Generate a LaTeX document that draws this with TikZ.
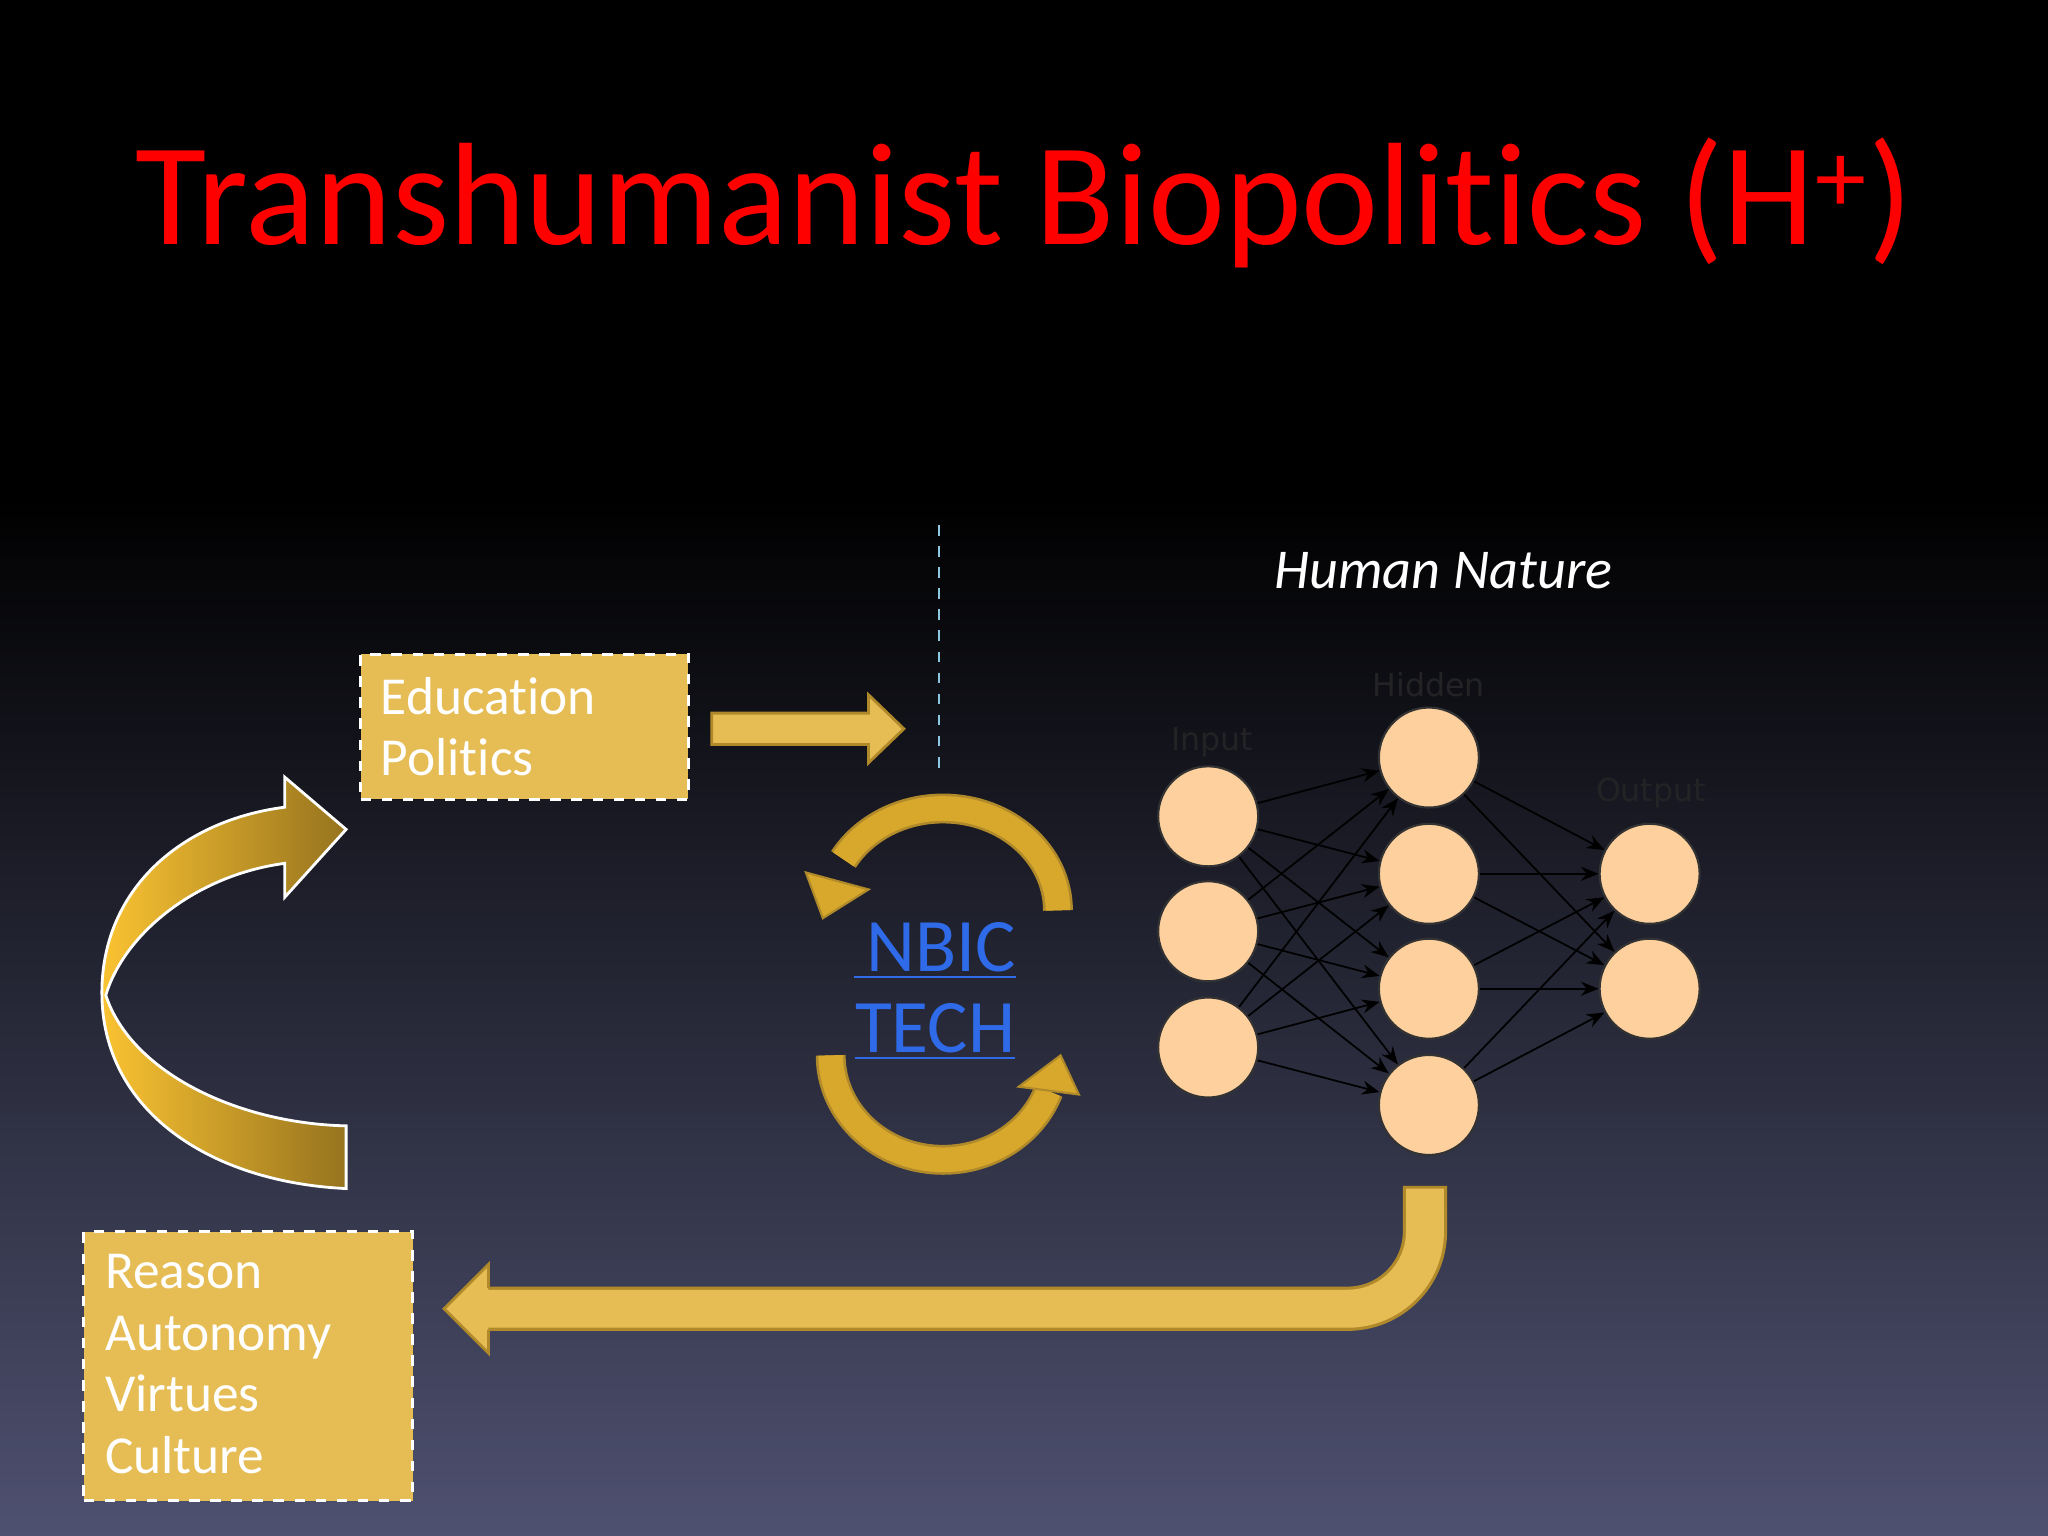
\documentclass[tikz,border=0pt]{standalone}
\usepackage{fontspec}
\setmainfont{Carlito}[Ligatures=NoCommon]
\newfontfamily\netfont{DejaVu Sans}
\usetikzlibrary{arrows.meta}
\definecolor{gold}{HTML}{E6BC55}
\definecolor{golddk}{HTML}{B08A2A}
\definecolor{ribbon}{HTML}{D8A82C}
\definecolor{neuron}{HTML}{FDD09E}
\definecolor{nbic}{HTML}{2F6BE8}
\definecolor{bgbot}{HTML}{4E5170}
\begin{document}
\begin{tikzpicture}[x=0.013061cm,y=-0.013061cm,
  box/.style={draw=white,dashed,line width=0.8pt,fill=gold,anchor=north west,inner sep=0pt},
  boxtext/.style={text=white,align=left,anchor=north west,inner sep=0pt,font=\fontsize{15.2}{17.5}\selectfont},
  nn/.style={circle,draw=black!80,line width=0.6pt,fill=neuron,minimum size=1.0cm,inner sep=0pt},
  nlab/.style={font=\netfont\fontsize{9}{10}\selectfont,text={rgb,255:red,35;green,35;blue,38}},
  edge/.style={-{Stealth[length=5pt,width=4pt]},line width=0.5pt,black},
  nbictext/.style={text=nbic,font=\fontsize{21.5}{24}\selectfont}]
\useasboundingbox (0,0) rectangle (1568,1176);
\fill[black] (0,0) rectangle (1568,381);
\shade[top color=black,bottom color=bgbot] (0,380) rectangle (1568,1176);
% title
\node[text=red,font=\fontsize{41.5}{45}\selectfont] (title) at (784,155) {Transhumanist Biopolitics (H\textsuperscript{+})};
% boxes
\node[box,minimum width=3.278cm,minimum height=1.45cm] (edu) at (275,500) {};
\node[boxtext] (edut) at (291,518) {Education\\Politics};
\node[box,minimum width=3.291cm,minimum height=2.69cm] (rea) at (63,942) {};
\node[boxtext] (reat) at (80,960) {Reason\\Autonomy\\Virtues\\Culture};
% right arrow
\filldraw[fill=gold,draw=golddk,line width=0.8pt] (545,546) -- (665,546) -- (665,532) -- (692,558) -- (665,584) -- (665,570) -- (545,570) -- cycle;
% dashed line
\coordinate (d1) at (719,402); \coordinate (d2) at (719,590);
\draw[color={rgb,255:red,140;green,200;blue,225},dashed,line width=0.6pt] (d1) -- (d2);
% big curved arrow
\shade[left color={rgb,255:red,250;green,195;blue,50},right color={rgb,255:red,150;green,115;blue,30},draw=white,line width=0.8pt]
 (265,910) .. controls (160,905) and (78,850) .. (78,760) .. controls (78,680) and (140,628) .. (218,618)
 -- (218,595) -- (265,635) -- (218,687) -- (218,661)
 .. controls (150,670) and (95,715) .. (81,762)
 .. controls (100,820) and (180,860) .. (265,862) -- cycle;
% NBIC cycle arrows
\draw[line width=8.5pt,draw=golddk] (810,697) arc[start angle=0,end angle=-150,x radius=88,y radius=78];
\draw[line width=7pt,draw=ribbon] (810,697) arc[start angle=0,end angle=-150,x radius=88,y radius=78];
\filldraw[fill=ribbon,draw=golddk,line width=0.6pt] (630,703) -- (665,681) -- (617,668) -- cycle;
\draw[line width=8.5pt,draw=golddk] (636,808) arc[start angle=180,end angle=20,x radius=86,y radius=80];
\draw[line width=7pt,draw=ribbon] (636,808) arc[start angle=180,end angle=20,x radius=86,y radius=80];
\filldraw[fill=ribbon,draw=golddk,line width=0.6pt] (812,808) -- (826,838) -- (780,832) -- cycle;
\node[nbictext] (nb) at (716,728) {\underline{\,NBIC}};
\node[nbictext] (te) at (716,790) {\underline{TECH}};
% human nature
\node[text=white,font=\itshape\fontsize{16}{19}\selectfont] (hn) at (1105,437) {Human Nature};
% network
\foreach \i/\y in {1/625,2/713,3/802} \node[nn] (i\i) at (925,\y) {};
\foreach \i/\y in {1/580,2/669,3/757,4/846} \node[nn] (h\i) at (1094,\y) {};
\foreach \i/\y in {1/669,2/757} \node[nn] (o\i) at (1263,\y) {};
\node[nlab] (li) at (928,568) {Input};
\node[nlab] (lh) at (1094,524) {Hidden};
\node[nlab] (lo) at (1264,607) {Output};
\foreach \a in {1,2,3} \foreach \b in {1,2,3,4} \draw[edge] (i\a) -- (h\b);
\foreach \a in {1,2,3,4} \foreach \b in {1,2} \draw[edge] (h\a) -- (o\b);
% bottom L arrow
\coordinate (ls) at (1091,908); \coordinate (le) at (372,1002);
\draw[line width=12.6pt,draw=golddk,rounded corners=22pt] (ls) -- (1091,1002) -- (le);
\draw[line width=10.8pt,draw=gold,rounded corners=22pt] (1091,910) -- (1091,1002) -- (370,1002);
\filldraw[fill=gold,draw=golddk,line width=0.8pt] (374,986) -- (374,968) -- (340,1002) -- (374,1036) -- (374,1018);
\fill[gold] (372,988) rectangle (380,1016);
\end{tikzpicture}
\end{document}
